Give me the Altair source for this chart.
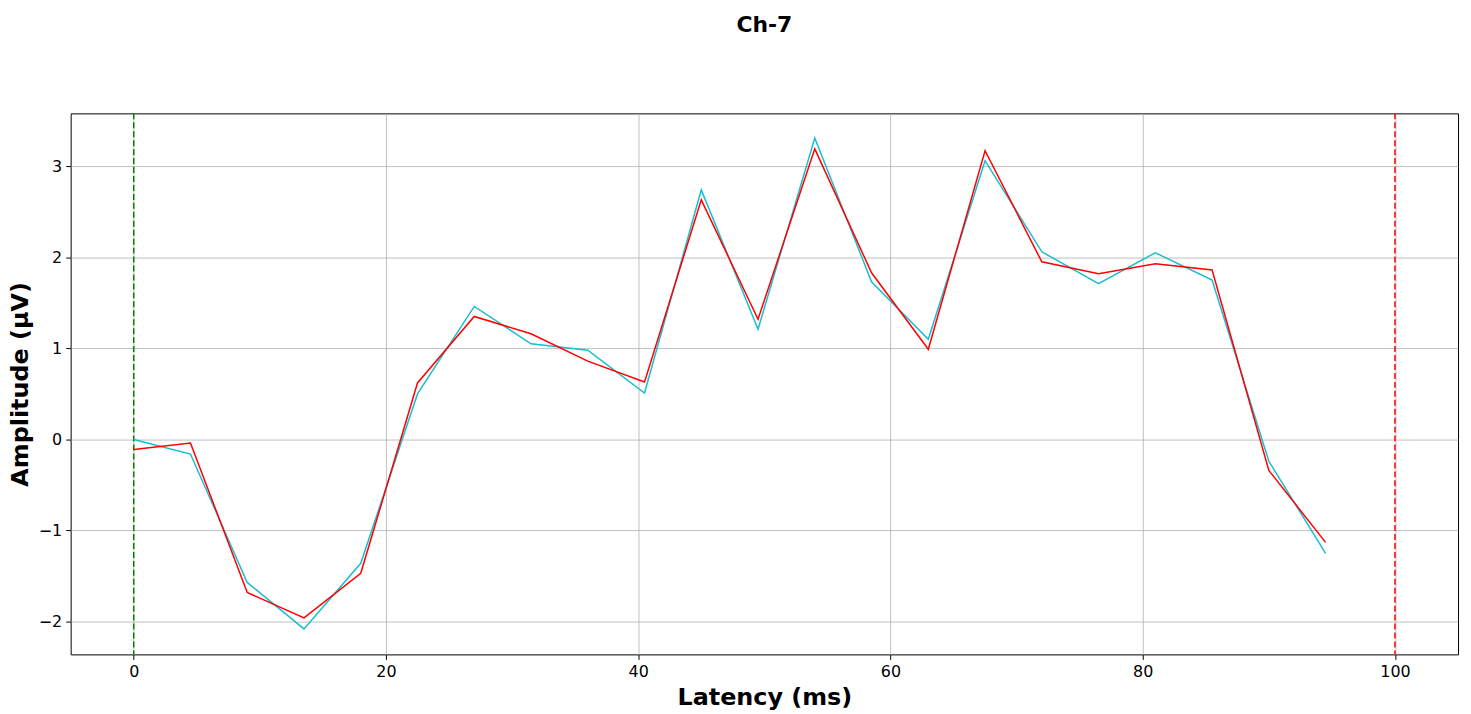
import altair as alt
import pandas as pd

latency = [0, 4.5, 9, 13.5, 18, 22.5, 27, 31.5, 36, 40.5, 45, 49.5, 54, 58.5, 63, 67.5, 72, 76.5, 81, 85.5, 90, 94.5]
cyan = [0, -0.16, -1.57, -2.08, -1.36, 0.5, 1.46, 1.05, 0.98, 0.51, 2.74, 1.21, 3.31, 1.73, 1.10, 3.06, 2.06, 1.71, 2.05, 1.75, -0.24, -1.25]
red = [-0.11, -0.04, -1.68, -1.96, -1.47, 0.62, 1.35, 1.16, 0.86, 0.63, 2.63, 1.32, 3.19, 1.83, 0.99, 3.17, 1.95, 1.82, 1.93, 1.86, -0.34, -1.13]
vlines = [0, 100]
vcolors = ["green", "red"]

df = pd.DataFrame({"x": latency * 2, "y": cyan + red,
                   "s": ["cyan"] * len(cyan) + ["red"] * len(red)})
vdf = pd.DataFrame({"x": vlines, "c": vcolors})

xs = alt.Scale(domain=[-5, 105], nice=False, zero=False)
ys = alt.Scale(domain=[-2.36, 3.58], nice=False, zero=False)

lines = alt.Chart(df).mark_line(strokeWidth=1.5).encode(
    x=alt.X("x:Q", scale=xs, title="Latency (ms)",
            axis=alt.Axis(values=[0, 20, 40, 60, 80, 100])),
    y=alt.Y("y:Q", scale=ys, title="Amplitude (µV)",
            axis=alt.Axis(values=[-2, -1, 0, 1, 2, 3], labelExpr="replace(datum.label, '−', '−')")),
    color=alt.Color("s:N", scale=alt.Scale(domain=["cyan", "red"], range=["#17becf", "red"]), legend=None),
    detail="s:N",
)
rules = alt.Chart(vdf).mark_rule(strokeDash=[6, 3], strokeWidth=1.5).encode(
    x=alt.X("x:Q", scale=xs),
    color=alt.Color("c:N", scale=None),
)

chart = (rules + lines).properties(
    width=1395, height=544,
    padding={"left": 0, "top": 4, "right": 5, "bottom": 5},
    title=alt.TitleParams("Ch-7", fontSize=22, fontWeight="bold", font="DejaVu Sans",
                          offset=76, anchor="middle"),
).configure_axis(
    labelFont="DejaVu Sans", labelFontSize=16, labelColor="black",
    titleFont="DejaVu Sans", titleFontSize=24, titleFontWeight="bold", titleColor="black",
    gridColor="#b0b0b0", gridWidth=0.8, domain=False, tickColor="black", tickSize=5,
    labelPadding=4, titlePadding=6,
).configure_view(stroke="black", strokeWidth=1)

chart.save("out.html", embed_options={"renderer": "svg", "actions": False})
